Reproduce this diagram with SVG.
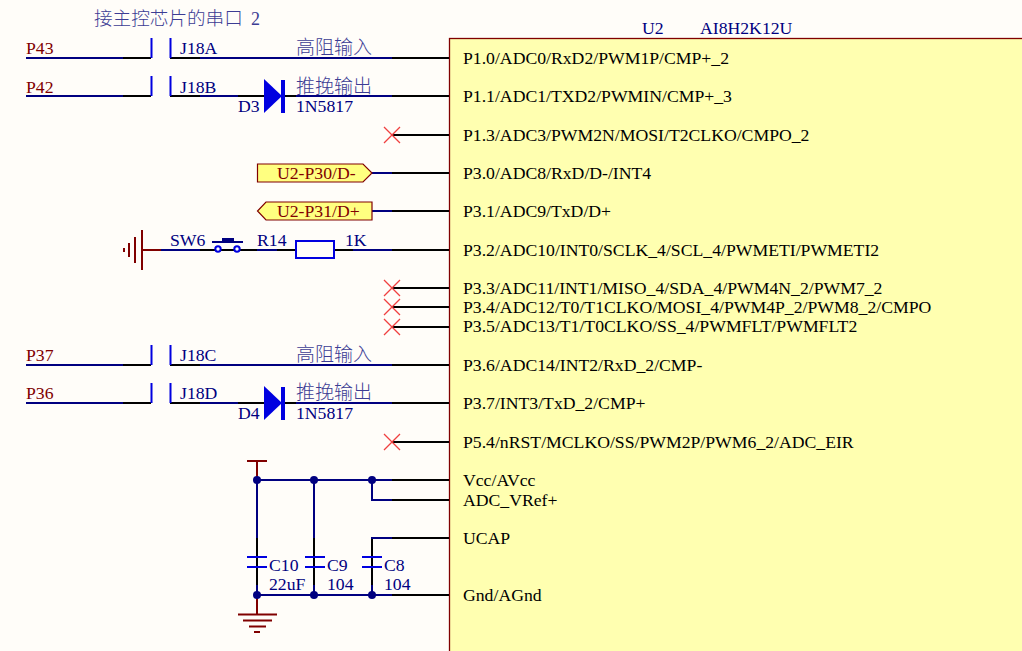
<svg xmlns="http://www.w3.org/2000/svg" width="1022" height="651" viewBox="0 0 1022 651">
<defs>
<style>
text{font-family:"Liberation Serif","Noto Sans CJK SC",serif;font-size:17.7px}
.n{fill:#000080}
.r{fill:#800000}
.k{fill:#000}
.c{font-family:"Noto Sans CJK SC","Liberation Serif",sans-serif;font-size:19px;fill:#3c3c94;font-weight:300}
.w{stroke:#000080;stroke-width:2;fill:none}
.b{stroke:#000;stroke-width:2;fill:none}
.bl{stroke:#0000e0;stroke-width:2;fill:none}
.m{stroke:#800000;stroke-width:2;fill:none}
.x{stroke:#f04040;stroke-width:1.3;fill:none}
.d{fill:#000080}
.l{fill:#ffff80;stroke:#800000;stroke-width:1.2}
</style>
<g id="nc"><path class="x" d="M-8-8L8 8M-8 8L8-8"/></g>
</defs>
<rect width="1022" height="651" fill="#fffdf9"/>
<g id="U2">
<rect x="449.500" y="38.500" width="580" height="620" fill="#ffffb0" stroke="#800000" stroke-width="1.300"/>
<text class="n" x="642" y="34">U2</text>
<text class="n" x="700" y="34">AI8H2K12U</text>
<text class="k" x="463" y="64">P1.0/ADC0/RxD2/PWM1P/CMP+_2</text>
<text class="k" x="463" y="102">P1.1/ADC1/TXD2/PWMIN/CMP+_3</text>
<text class="k" x="463" y="141">P1.3/ADC3/PWM2N/MOSI/T2CLKO/CMPO_2</text>
<text class="k" x="463" y="179">P3.0/ADC8/RxD/D-/INT4</text>
<text class="k" x="463" y="217">P3.1/ADC9/TxD/D+</text>
<text class="k" x="463" y="256">P3.2/ADC10/INT0/SCLK_4/SCL_4/PWMETI/PWMETI2</text>
<text class="k" x="463" y="294">P3.3/ADC11/INT1/MISO_4/SDA_4/PWM4N_2/PWM7_2</text>
<text class="k" x="463" y="313">P3.4/ADC12/T0/T1CLKO/MOSI_4/PWM4P_2/PWM8_2/CMPO</text>
<text class="k" x="463" y="332">P3.5/ADC13/T1/T0CLKO/SS_4/PWMFLT/PWMFLT2</text>
<text class="k" x="463" y="371">P3.6/ADC14/INT2/RxD_2/CMP-</text>
<text class="k" x="463" y="409">P3.7/INT3/TxD_2/CMP+</text>
<text class="k" x="463" y="448">P5.4/nRST/MCLKO/SS/PWM2P/PWM6_2/ADC_EIR</text>
<text class="k" x="463" y="486">Vcc/AVcc</text>
<text class="k" x="463" y="506">ADC_VRef+</text>
<text class="k" x="463" y="544">UCAP</text>
<text class="k" x="463" y="601">Gnd/AGnd</text>
</g>
<g id="connectors">
<path class="b" d="M123 58H151M170 58H449M123 96H151M170 96H449M392 135H449M392 288H449M392 307H449M392 327H449M123 365H151M170 365H449M123 403H151M170 403H449M392 442H449M392 173H449M392 211H449M200 250H449M392 480H449M392 500H449M392 538H449M392 595H449M257 538V585M314 538V585M372 538V585"/>
<path class="w" d="M26 58H123M26 96H123M26 365H123M26 403H123M200 58H392M200 96H238M296 96H392M200 365H392M200 403H238M296 403H392M372 173H392M372 211H392M161 250H200M257 250H277M353 250H392M257 480H392M372 480V500H392M372 539V538H392M257 480V538M314 480V538M257 595H392M257 585V595M314 585V595M372 585V595"/>
</g>
<g id="J18" fill="none">
<path class="bl" d="M151.500 38V58M170.500 38V58M151.500 76V96M170.500 76V96M151.500 345V365M170.500 345V365M151.500 383V403M170.500 383V403"/>
<text class="r" x="26" y="54">P43</text><text class="r" x="26" y="93">P42</text>
<text class="r" x="26" y="361">P37</text><text class="r" x="26" y="399">P36</text>
<text class="n" x="180" y="54">J18A</text><text class="n" x="180" y="93">J18B</text>
<text class="n" x="180" y="361">J18C</text><text class="n" x="180" y="399">J18D</text>
<text class="c" x="296" y="54">高阻输入</text><text class="c" x="296" y="93">推挽输出</text>
<text class="c" x="296" y="361">高阻输入</text><text class="c" x="296" y="399">推挽输出</text>
</g>
<text class="c" x="94" y="25" style="font-size:18.600px">接主控芯片的串口</text><text class="c" x="251" y="25" style="font-size:18px;font-family:'Liberation Serif',serif">2</text>
<g id="D3"><path d="M264 79L282 96L264 113Z" fill="#0000e0"/><rect x="281" y="80" width="4" height="33" fill="#0000e0"/><text class="n" x="238" y="112">D3</text><text class="n" x="296" y="112">1N5817</text></g>
<g id="D4"><path d="M264 386L282 403L264 420Z" fill="#0000e0"/><rect x="281" y="387" width="4" height="33" fill="#0000e0"/><text class="n" x="238" y="419">D4</text><text class="n" x="296" y="419">1N5817</text></g>
<g id="NC"><use href="#nc" x="392" y="135"/><use href="#nc" x="392" y="288"/><use href="#nc" x="392" y="307"/><use href="#nc" x="392" y="327"/><use href="#nc" x="392" y="442"/></g>
<g id="U2-P30"><path class="l" d="M257.500 164H363L372 173L363 182H257.500Z"/><text class="r" x="277" y="179">U2-P30/D-</text></g>
<g id="U2-P31"><path class="l" d="M372 202H266L257.500 211L266 220H372Z"/><text class="r" x="277" y="217">U2-P31/D+</text></g>
<g id="GND1"><path class="m" d="M161 250H142"/><path d="M142 230V270M135 237V263M129 243V257M124 248V252" stroke="#800000" stroke-width="2" fill="none"/></g>
<g id="SW6"><text class="n" x="170" y="246">SW6</text><path d="M212 242H243" stroke="#000080" stroke-width="2"/><rect x="222" y="238" width="12" height="5" fill="#000080"/><circle cx="218" cy="249" r="2.700" fill="#fff" stroke="#0000e0" stroke-width="2"/><circle cx="237" cy="249" r="2.700" fill="#fff" stroke="#0000e0" stroke-width="2"/></g>
<g id="R14"><text class="n" x="257" y="246">R14</text><rect x="296" y="241" width="38" height="17" fill="#fffdf9" stroke="#0000e0" stroke-width="2"/><text class="n" x="345" y="246">1K</text></g>
<g id="VCC"><path class="m" d="M247 461H267M257 461V480"/></g>
<g id="C10"><path d="M247 557H267M247 567H267" stroke="#0000e0" stroke-width="2"/><text class="n" x="269" y="571">C10</text><text class="n" x="269" y="590">22uF</text></g>
<g id="C9"><path d="M305 557H325M305 567H325" stroke="#0000e0" stroke-width="2"/><text class="n" x="327" y="571">C9</text><text class="n" x="327" y="590">104</text></g>
<g id="C8"><path d="M362 557H382M362 567H382" stroke="#0000e0" stroke-width="2"/><text class="n" x="384" y="571">C8</text><text class="n" x="384" y="590">104</text></g>
<g id="GND2"><path class="m" d="M257 596V614M238 614.500H277M243 620.500H272M249 626.500H266M254 632H260"/></g>
<g id="junctions"><circle class="d" cx="257" cy="480" r="4"/><circle class="d" cx="314" cy="480" r="4"/><circle class="d" cx="372" cy="480" r="4"/><circle class="d" cx="257" cy="595" r="4"/><circle class="d" cx="314" cy="595" r="4"/><circle class="d" cx="372" cy="595" r="4"/></g>
</svg>
